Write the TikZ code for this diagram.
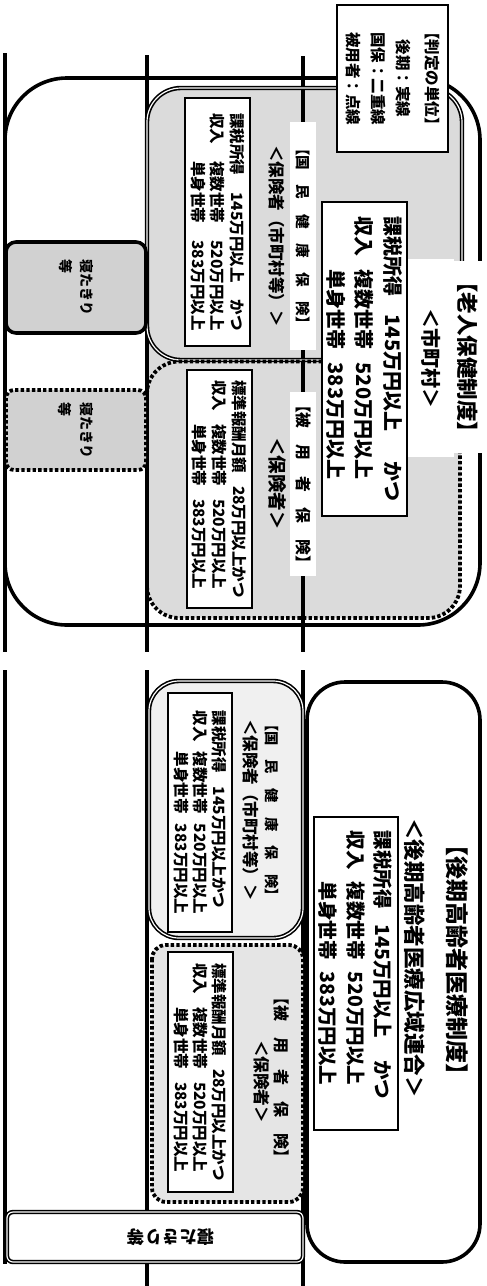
\documentclass[tikz,border=0pt]{standalone}
\usepackage{fontspec}
\setmainfont{Noto Sans CJK JP}
\newcommand\myfs[2]{\fontsize{#1}{#2}\selectfont}
\begin{document}
\begin{tikzpicture}[x=1pt,y=-1pt,
  thickline/.style={line width=3.6pt},
  dbl/.style={double, line width=1.6pt, double distance=1.2pt},
  dotted4/.style={line width=3.8pt, dash pattern=on 3.4pt off 2.2pt},
  sepline/.style={line width=3.4pt},
  txt/.style={rotate=-90, inner sep=0pt, font=\bfseries},
  frame/.style={draw, line width=1.4pt, fill=white, inner sep=0pt, rotate=-90},
  cover/.style={fill=white},
]
\useasboundingbox (0,0) rectangle (487,1286);

% ---------- top half ----------
\fill[black!14, rounded corners=34pt] (147,88) rectangle (461,618);
\draw[sepline] (5,53) -- (5,652);
\draw[sepline] (147,55) -- (147,652);
\draw[sepline] (303,56) -- (303,652);
\draw[sepline] (5,670) -- (5,1264);
\draw[sepline] (147,670) -- (147,1286);
\draw[sepline] (303,670) -- (303,1286);

\draw[dbl, rounded corners=34pt] (322,360) -- (147,360) -- (147,88) -- (462,88) -- (462,262);
\draw[dotted4, rounded corners=32pt] (322,361.5) -- (147,361.5) -- (147,618) -- (460,618) -- (460,452);
\draw[thickline, rounded corners=62pt] (5,78) rectangle (480,625);

\node[draw, line width=3.6pt, fill=black!18, rounded corners=10pt, minimum width=91pt, minimum height=140pt,
      rotate=-90, inner sep=0pt, align=left, font=\myfs{14}{21}\bfseries] (bedA) at (76,287.5) {寝たきり\\等};
\node[draw, dotted4, fill=black!18, rounded corners=8pt, minimum width=80pt, minimum height=140pt,
      rotate=-90, inner sep=0pt, align=left, font=\myfs{14}{22}\bfseries] (bedB) at (76,430) {寝たきり\\等};

\node[frame, line width=1.5pt, minimum width=147pt, minimum height=111pt, align=center,
      font=\myfs{15.5}{25}\bfseries] (legend) at (392.5,78.5)
      {【判定の単位】\\[4pt]後期：実線\\国保：二重線\\被用者：点線};

\node[frame, minimum width=314pt, minimum height=85pt, align=left, font=\myfs{20}{28.5}\bfseries] (shibox) at (364.5,359)
  {課税所得\hspace{18pt}145万円以上\hspace{30pt}かつ\\収入\hspace{13pt}複数世帯\hspace{13pt}520万円以上\\\phantom{収入}\hspace{13pt}単身世帯\hspace{13pt}383万円以上};

\node[cover, txt, minimum width=192pt, minimum height=28pt, font=\myfs{21.5}{26}\bfseries] (title1) at (468,357) {【老人保健制度】};
\node[cover, txt, minimum width=198pt, minimum height=46pt, font=\myfs{20}{24}\bfseries] (shi) at (431,358) {＜市町村＞};

\node[cover, txt, minimum width=228pt, minimum height=26pt, font=\myfs{14.6}{18}\bfseries] (kokuT) at (303,236) {【国　民　健　康　保　険】};
\node[txt, font=\myfs{16.5}{20}\bfseries] (hokT) at (277,236) {＜保険者（市町村等）＞};
\node[frame, minimum width=248pt, minimum height=65pt, align=left, font=\myfs{15.5}{19.5}\bfseries] (kokuBoxT) at (217.5,222)
  {課税所得\hspace{17pt}145万円以上\hspace{17pt}かつ\\収入\hspace{17pt}複数世帯\hspace{17pt}520万円以上\\\phantom{収入}\hspace{17pt}単身世帯\hspace{17pt}383万円以上};

\node[cover, txt, minimum width=184pt, minimum height=26pt, font=\myfs{15.8}{18}\bfseries] (hiyT) at (303,484) {【被　用　者　保　険】};
\node[txt, font=\myfs{18.5}{20}\bfseries] (hiyHokT) at (277,483.5) {＜保険者＞};
\node[frame, minimum width=238pt, minimum height=65pt, align=left, font=\myfs{15.5}{20}\bfseries] (hiyBoxT) at (219.5,489)
  {標準報酬月額\hspace{13pt}28万円以上かつ\\収入\hspace{13pt}複数世帯\hspace{13pt}520万円以上\\\phantom{収入}\hspace{13pt}単身世帯\hspace{13pt}383万円以上};

% ---------- bottom half ----------
\draw[thickline, fill=white, rounded corners=38pt] (307,682) rectangle (480,1262);
\node[txt, font=\myfs{23}{26}\bfseries] (title2) at (457,960) {【後期高齢者医療制度】};
\node[txt, font=\myfs{21.5}{24}\bfseries] (kouiki) at (415,958) {＜後期高齢者医療広域連合＞};
\node[frame, minimum width=313pt, minimum height=84pt] (kouBox) at (356,973.5) {};
\node[txt, align=left, font=\myfs{19.5}{27.5}\bfseries] (kouText) at (355.5,965)
  {課税所得\hspace{16pt}145万円以上\hspace{22pt}かつ\\収入\hspace{12pt}複数世帯\hspace{12pt}520万円以上\\\phantom{収入}\hspace{12pt}単身世帯\hspace{12pt}383万円以上};

\draw[dbl, fill=black!6, rounded corners=30pt] (149,681) rectangle (303,938);
\node[frame, minimum width=239pt, minimum height=64pt, align=left, font=\myfs{15.5}{19}\bfseries] (kokuBoxB) at (200,812.5)
  {課税所得\hspace{14pt}145万円以上かつ\\収入\hspace{10pt}複数世帯\hspace{10pt}520万円以上\\\phantom{収入}\hspace{10pt}単身世帯\hspace{10pt}383万円以上};
\node[txt, font=\myfs{14.3}{18}\bfseries] (kokuB) at (272,810) {【国　民　健　康　保　険】};
\node[txt, font=\myfs{16.5}{20}\bfseries] (hokB) at (251,810) {＜保険者（市町村等）＞};

\draw[dotted4, fill=black!10, rounded corners=14pt] (152,945) rectangle (303,1202);
\node[frame, minimum width=240pt, minimum height=65pt, align=left, font=\myfs{15.5}{19}\bfseries] (hiyBoxB) at (200.5,1072)
  {標準報酬月額\hspace{13pt}28万円以上かつ\\収入\hspace{13pt}複数世帯\hspace{13pt}520万円以上\\\phantom{収入}\hspace{13pt}単身世帯\hspace{13pt}383万円以上};
\node[txt, font=\myfs{16}{18}\bfseries] (hiyB) at (282,1077) {【被　用　者　保　険】};
\node[txt, font=\myfs{16.6}{20}\bfseries] (hiyHokB) at (262,1081.5) {＜保険者＞};

\node[draw, dbl, fill=white, rounded corners=6pt, minimum width=296pt, minimum height=50pt, inner sep=0pt] (bar) at (155,1237) {};
\node[rotate=180, inner sep=0pt, font=\myfs{17.5}{20}\bfseries] (barT) at (171,1237) {寝たきり等};
\end{tikzpicture}
\end{document}
